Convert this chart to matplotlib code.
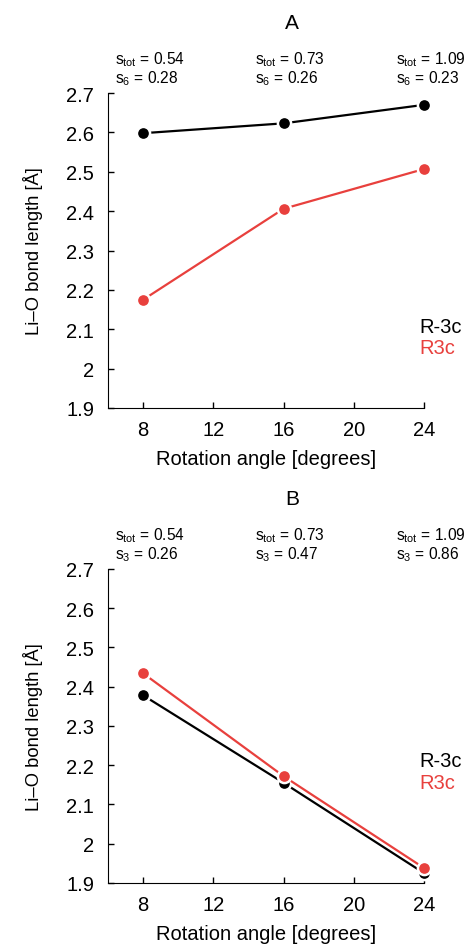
#!/usr/bin/env python3
import matplotlib
matplotlib.use('Agg')
import matplotlib.pyplot as plt

plt.rcParams['font.family'] = ['Liberation Sans', 'DejaVu Sans']
plt.rcParams['mathtext.fontset'] = 'custom'
plt.rcParams['mathtext.rm'] = 'Liberation Sans'
plt.rcParams['mathtext.it'] = 'Liberation Sans'

angles = [8, 16, 24]
s_tot = ['0.54', '0.73', '1.09']

a_r3mc = [2.598, 2.623, 2.670]
a_r3c = [2.175, 2.406, 2.507]
a_s = ['0.28', '0.26', '0.23']

b_r3mc = [2.378, 2.155, 1.925]
b_r3c = [2.434, 2.172, 1.938]
b_s = ['0.26', '0.47', '0.86']

yticks = [1.9, 2.0, 2.1, 2.2, 2.3, 2.4, 2.5, 2.6, 2.7]
xticks = [8, 12, 16, 20, 24]

RED = '#e8403d'


def panel(fig, rect, title, black, red, s_vals, s_name, leg_y):
    ax = fig.add_axes(rect)
    for vals, col in [(black, 'black'), (red, RED)]:
        ax.plot(angles, vals, '-o', color=col, lw=1.6, ms=9.5,
                mfc=col, mec='white', mew=1.8, clip_on=False, zorder=3)
    ax.set_xlim(6, 24)
    ax.set_ylim(1.9, 2.7)
    ax.set_xticks(xticks)
    ax.set_yticks(yticks)
    ax.set_yticklabels(['%g' % v for v in yticks])
    ax.spines['top'].set_visible(False)
    ax.spines['right'].set_visible(False)
    ax.tick_params(direction='in', length=4, width=1, labelsize=14.5, pad=9)
    ax.tick_params(axis='y', pad=10)
    ax.set_xlabel('Rotation angle [degrees]', fontsize=14.5, labelpad=7)
    ax.set_ylabel('Li\u2013O bond length [\u00c5]', fontsize=13.2, labelpad=17)
    for x, st, sv in zip(angles, s_tot, s_vals):
        ax.annotate(r'$\mathregular{s_{tot}}$ = ' + st, (x, 2.7), xytext=(-20.5, 25),
                    textcoords='offset points', ha='left', va='center',
                    fontsize=11.2, annotation_clip=False)
        ax.annotate(r'$\mathregular{s_{%s}}$ = ' % s_name + sv, (x, 2.7), xytext=(-20.5, 11),
                    textcoords='offset points', ha='left', va='center',
                    fontsize=11.2, annotation_clip=False)
    ax.text(0.985, leg_y, 'R-3c', transform=ax.transAxes, fontsize=14.5,
            color='black', va='center')
    ax.text(0.985, leg_y - 0.068, 'R3c', transform=ax.transAxes, fontsize=14.5,
            color=RED, va='center')
    fig.text(292 / 467, rect[1] + rect[3] + 0.0745, title, fontsize=15,
             ha='center', va='center')
    return ax


fig = plt.figure(figsize=(4.67, 9.45), dpi=100)
panel(fig, [0.2313, 0.5672, 0.6767, 0.3333], 'A', a_r3mc, a_r3c, a_s, '6', 0.26)
panel(fig, [0.2313, 0.0646, 0.6767, 0.3323], 'B', b_r3mc, b_r3c, b_s, '3', 0.389)
fig.savefig('out.png', dpi=100)
